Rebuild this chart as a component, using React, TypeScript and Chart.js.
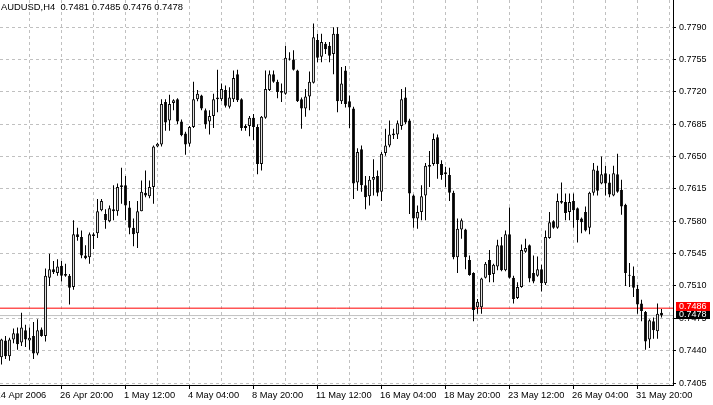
import React, { useEffect, useRef } from 'react';
import { Chart, registerables } from 'chart.js';

Chart.register(...registerables);

const symbolTitle = 'AUDUSD,H4  0.7481 0.7485 0.7476 0.7478';

const opens = [
  0.7433, 0.7451, 0.7434, 0.7452, 0.7459, 0.7449, 0.7462, 0.7451, 0.7456, 0.7437,
  0.7463, 0.7456, 0.7519, 0.7528, 0.7524, 0.7532, 0.7523, 0.7521, 0.7509, 0.7566,
  0.7563, 0.7543, 0.7541, 0.7566, 0.7567, 0.7592, 0.7588, 0.7580, 0.7593, 0.7591,
  0.7619, 0.7619, 0.7595, 0.7573, 0.7567, 0.7591, 0.7611, 0.7607, 0.7617, 0.7661,
  0.7663, 0.7709, 0.7689, 0.7708, 0.7712, 0.7688, 0.7675, 0.7664, 0.7682, 0.7712,
  0.7716, 0.7700, 0.7688, 0.7694, 0.7712, 0.7712, 0.7722, 0.7704, 0.7712, 0.7739,
  0.7712, 0.7681, 0.7683, 0.7692, 0.7682, 0.7642, 0.7692, 0.7722, 0.7739, 0.7731,
  0.7719, 0.7718, 0.7755, 0.7755, 0.7743, 0.7712, 0.7702, 0.7715, 0.7730, 0.7776,
  0.7758, 0.7772, 0.7770, 0.7761, 0.7783, 0.7710, 0.7743, 0.7710, 0.7702, 0.7622,
  0.7658, 0.7619, 0.7607, 0.7625, 0.7629, 0.7612, 0.7654, 0.7662, 0.7673, 0.7674,
  0.7683, 0.7714, 0.7689, 0.7608, 0.7583, 0.7590, 0.7608, 0.7641, 0.7642, 0.7671,
  0.7642, 0.7633, 0.7630, 0.7611, 0.7541, 0.7571, 0.7571, 0.7538, 0.7524, 0.7487,
  0.7487, 0.7519, 0.7538, 0.7523, 0.7531, 0.7554, 0.7527, 0.7566, 0.7519, 0.7497,
  0.7509, 0.7547, 0.7554, 0.7524, 0.7521, 0.7528, 0.7513, 0.7562, 0.7580, 0.7573,
  0.7600, 0.7601, 0.7590, 0.7602, 0.7594, 0.7583, 0.7590, 0.7573, 0.7611, 0.7635,
  0.7621, 0.7632, 0.7622, 0.7608, 0.7631, 0.7614, 0.7598, 0.7522, 0.7521, 0.7507,
  0.7491, 0.7482, 0.7452, 0.7472, 0.7461, 0.7481,
];
const highs = [
  0.7453, 0.7456, 0.7454, 0.7464, 0.7465, 0.7481, 0.7468, 0.7465, 0.7471, 0.7474,
  0.7465, 0.7529, 0.7545, 0.7537, 0.7539, 0.7537, 0.7534, 0.7523, 0.7581, 0.7573,
  0.7570, 0.7554, 0.7568, 0.7568, 0.7604, 0.7604, 0.7593, 0.7597, 0.7619, 0.7621,
  0.7638, 0.7629, 0.7602, 0.7583, 0.7602, 0.7624, 0.7635, 0.7624, 0.7662, 0.7665,
  0.7712, 0.7712, 0.7717, 0.7712, 0.7713, 0.7690, 0.7677, 0.7683, 0.7731, 0.7722,
  0.7717, 0.7702, 0.7700, 0.7718, 0.7744, 0.7729, 0.7727, 0.7725, 0.7743, 0.7744,
  0.7713, 0.7685, 0.7694, 0.7696, 0.7685, 0.7694, 0.7743, 0.7743, 0.7743, 0.7733,
  0.7729, 0.7770, 0.7763, 0.7765, 0.7744, 0.7714, 0.7723, 0.7742, 0.7794, 0.7783,
  0.7783, 0.7774, 0.7774, 0.7790, 0.7790, 0.7747, 0.7748, 0.7716, 0.7704, 0.7659,
  0.7662, 0.7629, 0.7629, 0.7647, 0.7635, 0.7655, 0.7680, 0.7689, 0.7680, 0.7689,
  0.7723, 0.7725, 0.7691, 0.7609, 0.7597, 0.7619, 0.7643, 0.7656, 0.7675, 0.7674,
  0.7646, 0.7639, 0.7638, 0.7613, 0.7583, 0.7583, 0.7572, 0.7543, 0.7525, 0.7496,
  0.7519, 0.7536, 0.7549, 0.7534, 0.7560, 0.7563, 0.7570, 0.7595, 0.7521, 0.7514,
  0.7555, 0.7561, 0.7555, 0.7543, 0.7542, 0.7533, 0.7570, 0.7590, 0.7581, 0.7610,
  0.7622, 0.7610, 0.7610, 0.7610, 0.7595, 0.7584, 0.7596, 0.7612, 0.7643, 0.7640,
  0.7650, 0.7640, 0.7631, 0.7640, 0.7653, 0.7625, 0.7599, 0.7535, 0.7531, 0.7511,
  0.7495, 0.7483, 0.7474, 0.7476, 0.7491, 0.7485,
];
const lows = [
  0.7425, 0.7431, 0.7429, 0.7448, 0.7441, 0.7445, 0.7444, 0.7441, 0.7431, 0.7435,
  0.7455, 0.7450, 0.7510, 0.7523, 0.7521, 0.7515, 0.7520, 0.7490, 0.7506, 0.7559,
  0.7540, 0.7539, 0.7534, 0.7550, 0.7562, 0.7591, 0.7572, 0.7579, 0.7581, 0.7586,
  0.7599, 0.7581, 0.7566, 0.7553, 0.7551, 0.7591, 0.7606, 0.7605, 0.7599, 0.7660,
  0.7661, 0.7678, 0.7678, 0.7700, 0.7685, 0.7672, 0.7652, 0.7661, 0.7681, 0.7710,
  0.7700, 0.7680, 0.7674, 0.7681, 0.7698, 0.7710, 0.7703, 0.7702, 0.7709, 0.7709,
  0.7678, 0.7678, 0.7672, 0.7668, 0.7631, 0.7635, 0.7691, 0.7721, 0.7730, 0.7713,
  0.7709, 0.7717, 0.7754, 0.7743, 0.7709, 0.7680, 0.7693, 0.7700, 0.7729, 0.7752,
  0.7752, 0.7761, 0.7752, 0.7739, 0.7698, 0.7707, 0.7703, 0.7681, 0.7604, 0.7613,
  0.7612, 0.7593, 0.7597, 0.7608, 0.7607, 0.7602, 0.7651, 0.7660, 0.7669, 0.7669,
  0.7679, 0.7685, 0.7588, 0.7573, 0.7572, 0.7581, 0.7581, 0.7617, 0.7640, 0.7626,
  0.7625, 0.7617, 0.7602, 0.7539, 0.7524, 0.7561, 0.7528, 0.7521, 0.7472, 0.7480,
  0.7480, 0.7518, 0.7514, 0.7514, 0.7527, 0.7526, 0.7526, 0.7518, 0.7491, 0.7496,
  0.7508, 0.7546, 0.7514, 0.7513, 0.7520, 0.7504, 0.7511, 0.7561, 0.7572, 0.7572,
  0.7599, 0.7581, 0.7581, 0.7573, 0.7557, 0.7567, 0.7569, 0.7566, 0.7608, 0.7608,
  0.7620, 0.7608, 0.7606, 0.7607, 0.7611, 0.7587, 0.7510, 0.7509, 0.7498, 0.7480,
  0.7472, 0.7441, 0.7443, 0.7453, 0.7453, 0.7476,
];
const closes = [
  0.7452, 0.7434, 0.7452, 0.7459, 0.7447, 0.7465, 0.7452, 0.7454, 0.7437, 0.7462,
  0.7456, 0.7521, 0.7528, 0.7525, 0.7531, 0.7521, 0.7521, 0.7508, 0.7566, 0.7563,
  0.7543, 0.7540, 0.7566, 0.7564, 0.7591, 0.7602, 0.7581, 0.7594, 0.7591, 0.7617,
  0.7617, 0.7597, 0.7573, 0.7566, 0.7591, 0.7612, 0.7608, 0.7617, 0.7661, 0.7664,
  0.7707, 0.7687, 0.7707, 0.7711, 0.7688, 0.7673, 0.7663, 0.7682, 0.7712, 0.7718,
  0.7702, 0.7685, 0.7694, 0.7712, 0.7714, 0.7723, 0.7705, 0.7714, 0.7735, 0.7711,
  0.7681, 0.7683, 0.7692, 0.7682, 0.7642, 0.7693, 0.7723, 0.7739, 0.7731, 0.7720,
  0.7721, 0.7757, 0.7756, 0.7744, 0.7710, 0.7702, 0.7715, 0.7731, 0.7779, 0.7757,
  0.7774, 0.7766, 0.7759, 0.7783, 0.7710, 0.7729, 0.7707, 0.7703, 0.7621, 0.7655,
  0.7619, 0.7606, 0.7625, 0.7628, 0.7611, 0.7653, 0.7662, 0.7674, 0.7675, 0.7686,
  0.7712, 0.7687, 0.7610, 0.7583, 0.7590, 0.7607, 0.7640, 0.7639, 0.7669, 0.7642,
  0.7630, 0.7631, 0.7611, 0.7541, 0.7572, 0.7581, 0.7541, 0.7522, 0.7484, 0.7493,
  0.7518, 0.7534, 0.7522, 0.7533, 0.7554, 0.7527, 0.7566, 0.7519, 0.7496, 0.7509,
  0.7549, 0.7551, 0.7518, 0.7515, 0.7528, 0.7513, 0.7563, 0.7579, 0.7573, 0.7602,
  0.7602, 0.7589, 0.7601, 0.7592, 0.7581, 0.7579, 0.7570, 0.7611, 0.7636, 0.7613,
  0.7631, 0.7621, 0.7609, 0.7632, 0.7612, 0.7596, 0.7524, 0.7521, 0.7508, 0.7490,
  0.7483, 0.7450, 0.7473, 0.7462, 0.7480, 0.7478,
];

const askPrice = 0.7486;
const bidPrice = 0.7478;

const yTickValues = [
  0.7405, 0.744, 0.7475, 0.751, 0.7545, 0.758, 0.7615, 0.765, 0.7685, 0.772, 0.7755, 0.779,
];
const xGridBars = [
  7, 15, 23, 31, 39, 47, 55, 63, 71, 79, 87, 95, 103, 111, 119, 127, 135, 143, 151, 159, 167,
];
// the first label belongs to the first bar and is clipped by the left edge
const xLabelBars = [-1.1, 15, 31, 47, 63, 79, 95, 111, 127, 143, 159];
const xLabels = [
  '24 Apr 2006', '26 Apr 20:00', '1 May 12:00', '4 May 04:00', '8 May 20:00',
  '11 May 12:00', '16 May 04:00', '18 May 20:00', '23 May 12:00', '26 May 04:00',
  '31 May 20:00',
];

const X_MIN = -0.375;
const X_MAX = 167.875;
const Y_MIN = 0.74029;
const Y_MAX = 0.78194;
const FONT_FAMILY = "'Liberation Sans', Arial, sans-serif";
const GRID = '#C0C0C0';

export default function App() {
  const ref = useRef<HTMLCanvasElement>(null);

  useEffect(() => {
    document.body.style.margin = '0';
    const canvas = ref.current;
    if (!canvas) return;

    const bodies = opens.map((o, i) => ({ x: i, y: [o, closes[i]] }));
    const wicks = lows.map((l, i) => ({ x: i, y: [l, highs[i]] }));
    const bull = opens.map((o, i) => closes[i] >= o);
    const labelMap = new Map<number, string>();
    xLabelBars.forEach((b, i) => labelMap.set(b, xLabels[i]));

    const overlay = {
      id: 'mt4overlay',
      afterDraw(chart: any) {
        const { ctx, chartArea } = chart;
        const y = chart.scales.y;
        ctx.save();
        ctx.textBaseline = 'middle';
        ctx.textAlign = 'left';
        ctx.fillStyle = '#000';
        ctx.font = `9.4px ${FONT_FAMILY}`;
        ctx.fillText(symbolTitle, 1, 7);
        ctx.font = `9px ${FONT_FAMILY}`;
        const tag = (price: number, bg: string) => {
          const py = y.getPixelForValue(price);
          const top = Math.round(py - 6);
          ctx.fillStyle = bg;
          ctx.fillRect(chartArea.right + 3, top, 34, 9);
          ctx.fillStyle = '#fff';
          ctx.fillText(price.toFixed(4), chartArea.right + 6, top + 4.5);
        };
        tag(bidPrice, '#000');
        tag(askPrice, '#FF0000');
        ctx.restore();
      },
    };

    const chart = new Chart(canvas, {
      type: 'bar',
      data: {
        datasets: [
          {
            type: 'bar',
            label: 'body',
            data: bodies as any,
            backgroundColor: bull.map((b) => (b ? '#FFFFFF' : '#000000')),
            borderColor: '#000000',
            borderWidth: 1,
            borderSkipped: false,
            maxBarThickness: 3,
            grouped: false,
            minBarLength: 1,
            inflateAmount: 0,
            order: 0,
          } as any,
          {
            type: 'bar',
            label: 'wick',
            data: wicks as any,
            backgroundColor: '#000000',
            borderWidth: 0,
            maxBarThickness: 1,
            grouped: false,
            inflateAmount: 0,
            order: 1,
          } as any,
          {
            type: 'line',
            label: 'ask',
            data: [
              { x: X_MIN, y: askPrice },
              { x: X_MAX, y: askPrice },
            ],
            borderColor: '#FF0000',
            borderWidth: 1,
            pointRadius: 0,
            order: 3,
          } as any,
          {
            type: 'line',
            label: 'bid',
            data: [
              { x: X_MIN, y: bidPrice },
              { x: X_MAX, y: bidPrice },
            ],
            borderColor: '#C0C0C0',
            borderWidth: 1,
            pointRadius: 0,
            order: 4,
          } as any,
        ],
      },
      options: {
        animation: false,
        responsive: false,
        maintainAspectRatio: false,
        devicePixelRatio: 1,
        events: [],
        layout: { padding: 0 },
        plugins: {
          legend: { display: false },
          tooltip: { enabled: false },
          title: { display: false },
        },
        scales: {
          x: {
            type: 'linear',
            min: X_MIN,
            max: X_MAX,
            offset: false,
            bounds: 'data',
            afterBuildTicks: (scale: any) => {
              scale.ticks = [...xLabelBars.slice(0, 1), ...xGridBars].map((v) => ({ value: v }));
            },
            afterFit: (scale: any) => {
              scale.height = 20;
              scale.paddingLeft = 0;
              scale.paddingRight = 0;
            },
            grid: {
              offset: false,
              color: GRID,
              lineWidth: 1,
              drawTicks: true,
              tickLength: 4,
              tickColor: (c: any) =>
                c.tick && labelMap.has(c.tick.value) ? '#000000' : 'rgba(0,0,0,0)',
            },
            border: { display: true, color: '#000000', width: 1, dash: [3, 3] },
            ticks: {
              autoSkip: false,
              maxRotation: 0,
              minRotation: 0,
              align: 'start',
              labelOffset: -1.5,
              padding: 1,
              color: '#000000',
              font: { family: FONT_FAMILY, size: 9.3 },
              callback: (v: any) => labelMap.get(Number(v)) ?? '',
            },
          } as any,
          y: {
            type: 'linear',
            position: 'right',
            min: Y_MIN,
            max: Y_MAX,
            bounds: 'data',
            afterBuildTicks: (scale: any) => {
              scale.ticks = yTickValues.map((v) => ({ value: v }));
            },
            afterFit: (scale: any) => {
              scale.width = 40;
              scale.paddingTop = 0;
              scale.paddingBottom = 0;
            },
            grid: {
              color: GRID,
              lineWidth: 1,
              drawTicks: true,
              tickLength: 3,
              tickColor: '#000000',
            },
            border: { display: true, color: '#000000', width: 1, dash: [3, 3] },
            ticks: {
              autoSkip: false,
              padding: 3,
              color: '#000000',
              font: { family: FONT_FAMILY, size: 9 },
              callback: (v: any) => Number(v).toFixed(4),
            },
          } as any,
        },
      },
      plugins: [overlay],
    });

    return () => chart.destroy();
  }, []);

  return (
    <div style={{ position: 'fixed', left: 0, top: 0, width: 713, height: 405, background: '#FFFFFF' }}>
      <canvas ref={ref} width={713} height={405} style={{ display: 'block' }} />
    </div>
  );
}
